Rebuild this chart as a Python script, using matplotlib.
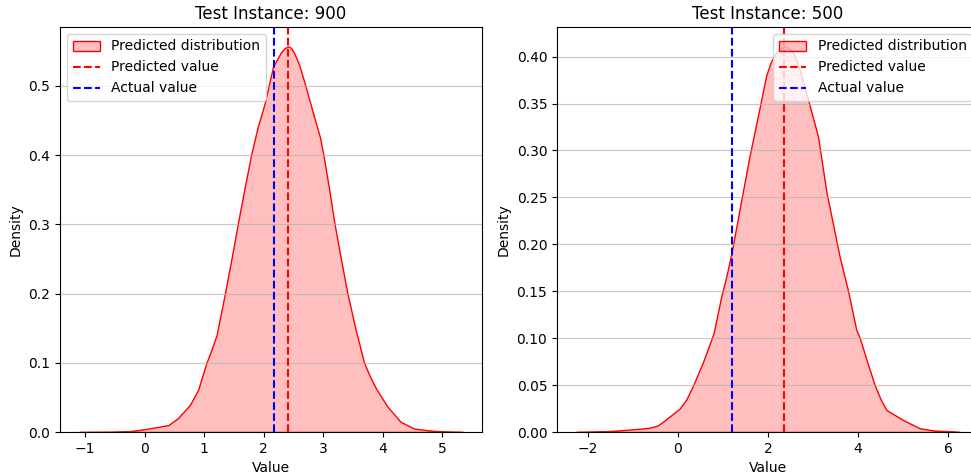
import matplotlib
matplotlib.use('Agg')
import matplotlib.pyplot as plt

# datos: densidad estimada de cada instancia
x_900 = [-1.1, -0.6, -0.27, 0.0, 0.2, 0.4, 0.56, 0.76, 0.9, 0.96, 1.04, 1.12,
         1.21, 1.35, 1.46, 1.57, 1.68, 1.79, 1.9, 2.02, 2.16, 2.29, 2.35, 2.41,
         2.46, 2.51, 2.6, 2.69, 2.85, 2.95, 3.01, 3.1, 3.19, 3.3, 3.41, 3.55,
         3.69, 3.79, 3.89, 4.08, 4.30, 4.53, 4.81, 5.05, 5.35]
dens_900 = [0.0, 0.0003, 0.001, 0.004, 0.007, 0.010, 0.020, 0.039, 0.061, 0.078,
            0.100, 0.118, 0.140, 0.200, 0.250, 0.302, 0.352, 0.400, 0.440, 0.475,
            0.528, 0.548, 0.554, 0.557, 0.555, 0.548, 0.530, 0.504, 0.455, 0.425,
            0.398, 0.352, 0.302, 0.250, 0.200, 0.147, 0.100, 0.080, 0.063, 0.037,
            0.015, 0.005, 0.002, 0.0007, 0.0]
pred_900 = 2.41
actual_900 = 2.17

x_500 = [-2.26, -1.6, -1.21, -0.85, -0.62, -0.45, -0.33, -0.2, 0.04, 0.19, 0.34,
         0.56, 0.79, 0.96, 1.08, 1.19, 1.41, 1.59, 1.82, 1.96, 2.06, 2.15, 2.25,
         2.36, 2.46, 2.56, 2.65, 2.74, 2.93, 3.11, 3.30, 3.45, 3.59, 3.78, 3.96,
         4.04, 4.2, 4.37, 4.5, 4.63, 5.0, 5.37, 5.7, 5.96, 6.26]
dens_500 = [0.0, 0.0008, 0.002, 0.0035, 0.0046, 0.007, 0.011, 0.016, 0.025, 0.035,
            0.050, 0.075, 0.105, 0.144, 0.167, 0.191, 0.248, 0.294, 0.347, 0.380,
            0.394, 0.402, 0.408, 0.411, 0.409, 0.404, 0.394, 0.380, 0.347, 0.315,
            0.255, 0.220, 0.187, 0.150, 0.109, 0.100, 0.075, 0.050, 0.035, 0.0235,
            0.0128, 0.004, 0.0015, 0.001, 0.0]
pred_500 = 2.36
actual_500 = 1.19

fig = plt.figure(figsize=(9.71, 4.76), dpi=100)

# el panel derecho se sale un poco de la figura (como en la original)
ax1 = fig.add_axes([60 / 971, 44 / 476, 422 / 971, 405 / 476])
ax2 = fig.add_axes([557 / 971, 44 / 476, 422 / 971, 405 / 476])


def dibujar(ax, xs, ys, pred, actual, titulo, loc):
    ax.fill_between(xs, ys, 0, facecolor=(1, 0, 0, 0.25), edgecolor='red',
                    linewidth=1.0, label='Predicted distribution')
    ax.axvline(pred, color='red', linestyle='--', linewidth=1.5, label='Predicted value')
    ax.axvline(actual, color='blue', linestyle='--', linewidth=1.5, label='Actual value')
    ax.set_title(titulo, fontsize=12)
    ax.set_xlabel('Value')
    ax.set_ylabel('Density')
    ax.grid(axis='y', color='#b0b0b0', alpha=0.7)
    ax.margins(x=0.05)
    ax.set_ylim(0, max(ys) * 1.05)
    ax.legend(loc=loc)


dibujar(ax1, x_900, dens_900, pred_900, actual_900, 'Test Instance: 900', 'upper left')
dibujar(ax2, x_500, dens_500, pred_500, actual_500, 'Test Instance: 500', 'upper right')

fig.savefig('out.png', dpi=100)
